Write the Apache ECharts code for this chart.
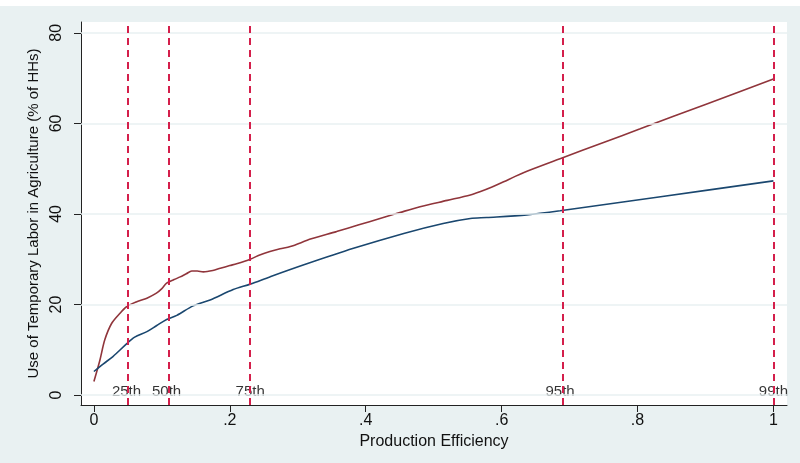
<!DOCTYPE html>
<html><head><meta charset="utf-8">
<script src="https://cdn.jsdelivr.net/npm/echarts@6/dist/echarts.min.js"></script>
<style>html,body{margin:0;padding:0;background:#fff}#c{width:800px;height:463px;background:linear-gradient(#fff 0 6px,#e9f1f2 6px)}</style>
</head><body><div id="c"></div>
<script>
// Data
const redX = [0, 0.0088, 0.016, 0.026, 0.038, 0.048, 0.063, 0.078, 0.092, 0.1, 0.107, 0.118, 0.127, 0.136, 0.144, 0.152, 0.161, 0.175, 0.186, 0.2, 0.21, 0.23, 0.245, 0.259, 0.274, 0.289, 0.32, 0.357, 0.39, 0.421, 0.45, 0.48, 0.52, 0.554, 0.568, 0.585, 0.603, 0.62, 0.642, 0.686, 0.75, 0.804, 0.9, 1.0];
const redY = [3.0, 7.7, 12.2, 15.8, 18.0, 19.5, 20.6, 21.4, 22.5, 23.5, 24.7, 25.5, 26.1, 26.8, 27.4, 27.4, 27.2, 27.5, 28.0, 28.6, 29.0, 30.0, 31.0, 31.7, 32.3, 32.8, 34.5, 36.1, 37.6, 39.0, 40.3, 41.6, 43.0, 44.2, 44.9, 45.9, 47.1, 48.3, 49.7, 52.2, 55.8, 58.8, 64.2, 69.8];
const blueX = [0, 0.014, 0.028, 0.048, 0.06, 0.078, 0.092, 0.107, 0.122, 0.146, 0.171, 0.205, 0.23, 0.259, 0.308, 0.382, 0.456, 0.514, 0.554, 0.578, 0.637, 0.686, 0.834, 1.0];
const blueY = [5.2, 6.9, 8.5, 11.3, 12.8, 14.0, 15.3, 16.7, 17.6, 19.7, 21.0, 23.3, 24.5, 26.1, 28.7, 32.4, 35.7, 37.9, 39.0, 39.2, 39.8, 40.7, 43.8, 47.3];
const pctX = [0.048, 0.107, 0.230, 0.686, 1.0];
const pctLabels = ['25th', '50th', '75th', '95th', '99th'];
const xTicks = [0, 0.2, 0.4, 0.6, 0.8, 1];
const yTicks = [0, 20, 40, 60, 80];

const zip = (a, b) => a.map((v, i) => [v, b[i]]);
const fmtX = v => { if (v === 0) return '0'; if (v === 1) return '1'; return String(+v.toFixed(1)).replace(/^0/, ''); };
const font = 'Liberation Sans, Arial, sans-serif';

const chart = echarts.init(document.getElementById('c'), null, {renderer: 'canvas'});
chart.setOption({
  animation: false,
  backgroundColor: 'transparent',
  grid: {left: 81, right: 13, top: 22, bottom: 58, show: true, backgroundColor: '#ffffff', borderWidth: 0},
  xAxis: {
    type: 'value', min: -0.019, max: 1.02,
    name: 'Production Efficiency', nameLocation: 'middle', nameGap: 25,
    nameTextStyle: {fontFamily: font, fontSize: 16, color: '#111'},
    axisLine: {show: true, onZero: false, lineStyle: {color: '#222', width: 1}},
    axisTick: {show: true, length: 7, customValues: xTicks, lineStyle: {color: '#222'}},
    axisLabel: {customValues: xTicks, formatter: fmtX, margin: 8, fontFamily: font, fontSize: 16, color: '#111'},
    splitLine: {show: false}
  },
  yAxis: {
    type: 'value', min: -2.2, max: 82.4,
    name: 'Use of Temporary Labor in Agriculture (% of HHs)', nameLocation: 'middle', nameGap: 40,
    nameTextStyle: {fontFamily: font, fontSize: 15, color: '#111'},
    axisLine: {show: true, onZero: false, lineStyle: {color: '#222', width: 1}},
    axisTick: {show: true, length: 7, customValues: yTicks, lineStyle: {color: '#222'}},
    axisLabel: {customValues: yTicks, rotate: 90, margin: 16, fontFamily: font, fontSize: 16, color: '#111'},
    splitLine: {show: false}
  },
  series: [
    {
      type: 'line', data: yTicks.map(v => [0, v]), symbol: 'none', lineStyle: {width: 0}, silent: true, z: 1,
      markLine: {silent: true, symbol: 'none', label: {show: false},
        lineStyle: {color: '#e8f0f2', width: 1.5, type: 'solid'},
        data: yTicks.map(v => ({yAxis: v}))}
    },
    {
      type: 'line', data: zip(redX, redY), symbol: 'none', smooth: 0.3, z: 3,
      lineStyle: {color: '#90353b', width: 1.6}
    },
    {
      type: 'line', data: zip(blueX, blueY), symbol: 'none', smooth: 0.3, z: 3,
      lineStyle: {color: '#1a476f', width: 1.6}
    },
    {
      type: 'scatter', data: pctX.map((x, i) => ({value: [x, 0], name: pctLabels[i]})), symbolSize: 0, z: 4,
      label: {show: true, position: 'inside', offset: [0, -3], formatter: p => p.name,
        fontFamily: font, fontSize: 15, color: '#000'},
      markLine: {silent: true, symbol: 'none', label: {show: false},
        lineStyle: {color: '#d41f4b', width: 2, type: [7, 5]},
        data: pctX.map(x => ({xAxis: x}))}
    }
  ]
});
</script></body></html>
